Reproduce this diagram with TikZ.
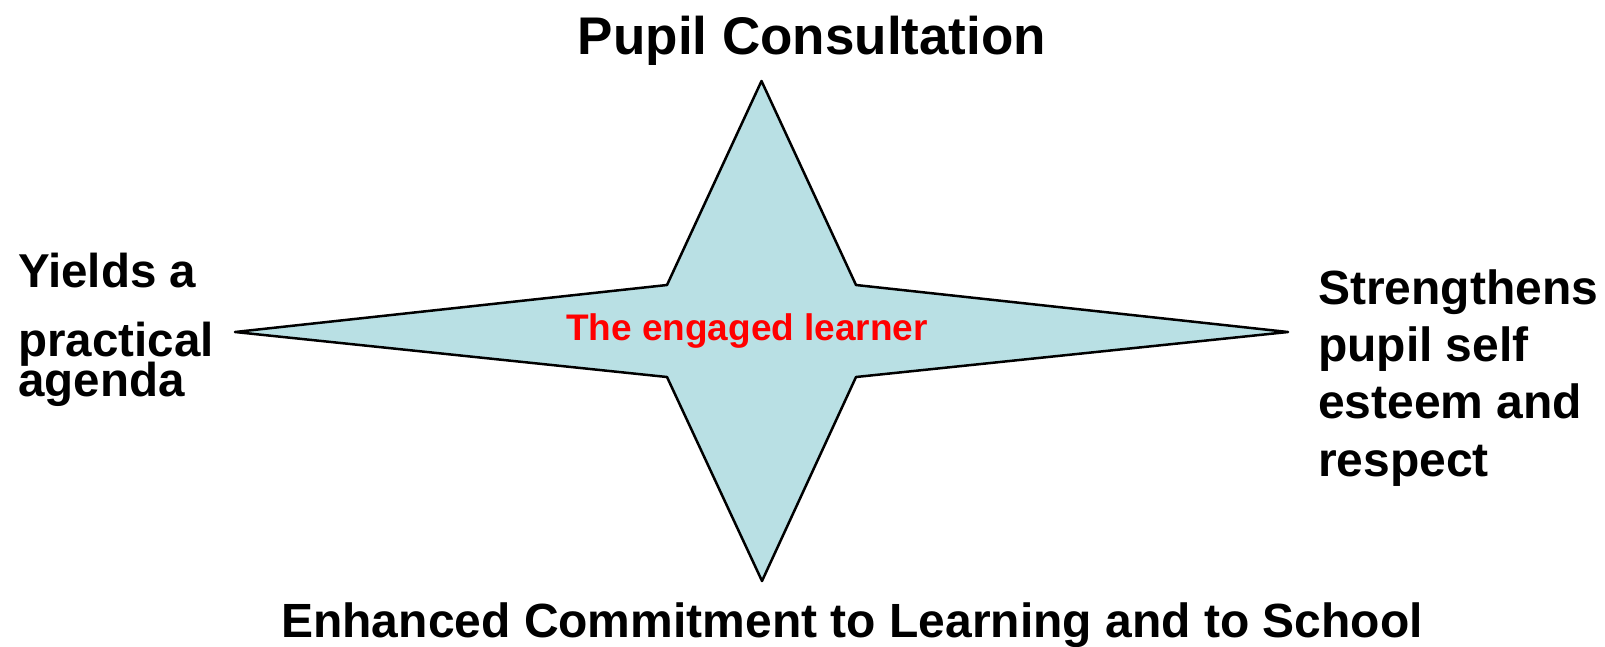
\documentclass[tikz,border=0pt]{standalone}
\usepackage{fontspec}
\setmainfont{Liberation Sans}
\definecolor{starfill}{RGB}{185,224,228}
\definecolor{redtxt}{RGB}{255,0,0}
\begin{document}
\begin{tikzpicture}[x=1pt,y=-1pt,
  label text/.style={inner sep=0pt,outer sep=0pt,font=\bfseries},
  star shape/.style={draw=black,fill=starfill,line width=2.5pt,line join=round}]
\useasboundingbox (0,0) rectangle (1605,646);
% star
\coordinate (t) at (761.5,81);
\coordinate (r) at (1288,332);
\coordinate (b) at (762,581);
\coordinate (l) at (235,332);
\coordinate (ur) at (856,285);
\coordinate (lr) at (856,377);
\coordinate (ll) at (667,377);
\coordinate (ul) at (667,285);
\draw[star shape] (t) -- (ur) -- (r) -- (lr) -- (b) -- (ll) -- (l) -- (ul) -- cycle;
% texts
\node[label text,anchor=base,font=\bfseries\fontsize{53}{63}\selectfont] (top) at (812,54) {Pupil Consultation};
\node[label text,anchor=base west,text=redtxt,font=\bfseries\fontsize{37}{44}\selectfont] (centre) at (566,340) {The engaged learner};
\node[label text,anchor=base,font=\bfseries\fontsize{48}{57}\selectfont] (bottom) at (852,637) {Enhanced Commitment to Learning and to School};
\node[label text,anchor=base west,align=left,font=\bfseries\fontsize{47.5}{57}\selectfont] (left) at (18.4,396) {Yields a\\[12pt]practical\\[-17pt]agenda};
\node[label text,anchor=base west,align=left,font=\bfseries\fontsize{48}{57.3}\selectfont] (right) at (1318,476) {Strengthens\\pupil self\\esteem and\\respect};
\end{tikzpicture}
\end{document}
